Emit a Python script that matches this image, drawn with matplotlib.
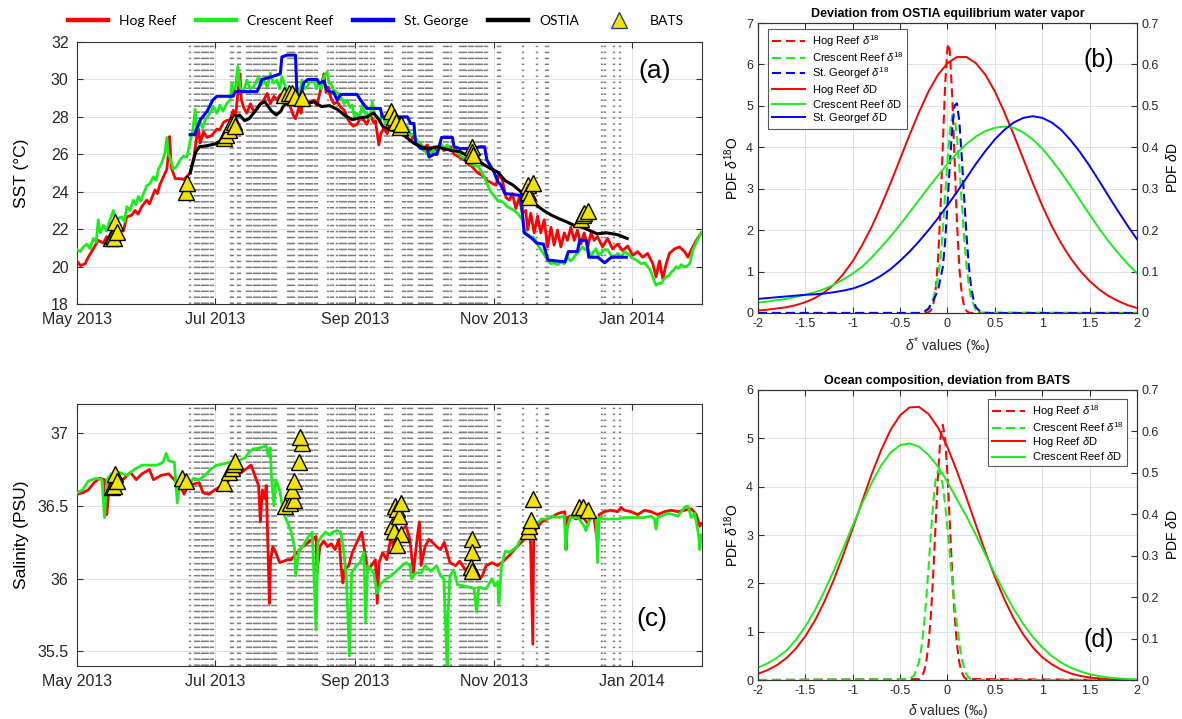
import matplotlib
matplotlib.use("Agg")
import matplotlib.pyplot as plt
import matplotlib.dates as mdates
from matplotlib.lines import Line2D
from matplotlib.ticker import FuncFormatter
import numpy as np
import pandas as pd

plt.rcParams["font.family"] = ["Liberation Sans", "DejaVu Sans"]
plt.rcParams["axes.unicode_minus"] = False
plt.rcParams["lines.scale_dashes"] = False
plt.rcParams["mathtext.fontset"] = "custom"
plt.rcParams["mathtext.rm"] = "Liberation Sans"
plt.rcParams["mathtext.it"] = "Liberation Sans:italic"
plt.rcParams["mathtext.bf"] = "Liberation Sans:bold"

RED = "#ff0000"
GREEN = "#1aee1a"
BLUE = "#0000ff"
YELLOW = "#f2e400"

# ---- time series: (days since 2013-05-01, value) ----
HOG_SST = np.array([
    [0, 20.3], [1.5, 20.05], [3.6, 20.15], [5, 20.5], [7, 20.9], [9.4, 21.4], [11.7, 21.25],
    [13.1, 21.6], [14.5, 21.3], [16.1, 21.95], [17.5, 21.7], [19, 22.1], [20.5, 21.9],
    [22, 22.65], [24.2, 22.75], [25.7, 23.0], [27, 22.8], [28.6, 23.2], [30.8, 23.55],
    [32, 23.35], [33, 23.65], [34.5, 24.1], [35.5, 23.9], [36.7, 24.4], [38.2, 24.8],
    [39.7, 25.2], [40.3, 25.9], [40.9, 26.95], [41.5, 25.6], [41.9, 25.2], [43.4, 24.7],
    [45.6, 24.7], [47, 24.65], [48.5, 24.8], [50, 25.0], [51.5, 25.7], [52.7, 26.8],
    [53.7, 27.35], [54.4, 26.6], [55.9, 27.2], [57.4, 26.9], [59.5, 27.0], [61.8, 27.35],
    [63, 27.3], [64.7, 27.7], [66, 27.8], [67.7, 27.85], [69, 28.35], [70, 28.0],
    [71, 29.2], [72, 30.3], [72.6, 28.9], [73.6, 28.5], [75, 28.2], [76.6, 28.7],
    [78, 28.3], [79.5, 28.4], [81, 28.7], [82.5, 28.9], [84, 29.25], [85.4, 28.7],
    [87, 29.1], [88.3, 28.9], [89.8, 29.2], [91.3, 28.8], [92.8, 29.05], [94.3, 28.5],
    [95.5, 28.1], [96.5, 27.9], [98, 28.5], [99, 28.2], [100, 29.05], [102, 28.7],
    [104.6, 28.9], [106, 28.6], [107.5, 29.4], [109, 30.3], [110, 29.3], [111, 29.6],
    [112, 29.05], [113.5, 28.7], [115, 28.8], [116.5, 28.5], [118, 28.36], [119.5, 27.9],
    [120.8, 27.65], [122, 27.5], [123.7, 27.6], [125, 27.9], [126.7, 27.83], [128, 27.6],
    [129.6, 28.1], [131, 27.7], [131.8, 27.8], [133.3, 26.5], [134.2, 27.1], [135.5, 27.4],
    [137, 27.1], [138.5, 27.7], [140, 27.3], [141.4, 27.45], [143, 27.1], [144.4, 27.3],
    [146, 26.9], [147.3, 26.7], [148.8, 27.0], [150, 26.5], [151.8, 26.55], [153, 26.3],
    [154.7, 26.5], [156, 26.2], [157.6, 26.4], [159, 26.1], [160.6, 26.5], [162, 26.2],
    [163.5, 26.3], [165, 26.4], [166.5, 26.0], [168, 25.9], [169.5, 25.8], [171, 25.7],
    [172.5, 25.5], [174, 25.4], [175.5, 25.2], [177, 25.0], [178.5, 24.9], [179.8, 24.8],
    [181, 24.6], [182.7, 24.5], [184, 24.4], [185, 24.35], [186.4, 25.0], [187.9, 24.6],
    [189.4, 23.7], [190.9, 23.55], [192.3, 23.9], [193.8, 23.1], [195.3, 23.7],
    [196.7, 22.85], [198.2, 23.0], [199, 21.95], [200.4, 22.85], [201.9, 21.8],
    [203.4, 22.7], [204.8, 21.8], [206.3, 22.5], [207.8, 21.05], [209.3, 22.1],
    [210.7, 21.15], [212.2, 21.95], [213.7, 21.05], [215.2, 21.8], [216.6, 21.4],
    [218.1, 22.1], [219.6, 21.4], [221, 21.95], [222.5, 21.2], [224, 21.8], [225.5, 21.05],
    [227, 21.8], [228.4, 21.4], [229.9, 21.6], [232.1, 21.05], [234.3, 21.5],
    [236.5, 20.95], [238.8, 21.2], [241, 20.85], [243.2, 21.1], [245.4, 20.6],
    [247.6, 20.8], [249.8, 20.5], [252, 20.7], [254.3, 20.15], [255.7, 19.45],
    [257.2, 20.3], [258.7, 19.35], [260.2, 20.15], [261.6, 20.7], [263.9, 20.95],
    [266.1, 21.05], [268.3, 20.8], [269.8, 20.5], [271.3, 20.9], [273.5, 21.4], [275.7, 21.8],
])

CRESCENT_SST = np.array([
    [0, 20.9], [1.5, 20.8], [2.8, 21.05], [4.3, 21.2], [5.8, 20.95], [7.2, 21.5], [8.5, 21.3],
    [9.4, 22.5], [10.2, 21.8], [11.7, 22.2], [13, 21.9], [14.6, 22.5], [16.1, 23.0],
    [17.5, 22.3], [18.5, 22.6], [19.8, 22.65], [21, 22.4], [22, 23.2], [23.5, 23.0],
    [24.9, 23.55], [26, 23.3], [27.1, 23.75], [28.2, 23.5], [29.4, 23.9], [30.8, 24.3],
    [32.3, 24.45], [33.8, 24.8], [35, 24.6], [36, 25.2], [37.5, 25.55], [38.9, 26.1],
    [39.7, 26.9], [40.3, 26.0], [40.9, 25.9], [42.6, 25.2], [44, 25.35], [45.6, 25.7],
    [47, 25.9], [48.5, 25.85], [50, 26.7], [51.2, 27.3], [52.2, 28.4], [53, 27.3],
    [54.4, 27.7], [55.5, 27.4], [56.6, 27.83], [58.8, 28.2], [60.3, 28.54], [61.8, 28.19],
    [63.2, 28.63], [64.5, 28.3], [66.2, 28.72], [67.7, 28.9], [68.4, 29.8], [69.2, 29.2],
    [69.9, 29.5], [71, 30.7], [72, 29.6], [73.5, 29.3], [75, 29.97], [76.5, 29.5],
    [78, 29.6], [80.3, 30.15], [81.5, 29.7], [82.5, 29.97], [84, 29.6], [85.4, 30.32],
    [86.8, 29.8], [88.3, 29.97], [89.5, 29.5], [90.5, 30.15], [91.8, 29.7], [92.8, 29.25],
    [94, 28.9], [95, 28.72], [96, 29.1], [97.2, 29.43], [98.3, 29.2], [99.4, 29.97],
    [100.5, 29.5], [101.6, 29.6], [103, 29.9], [104.6, 29.97], [105.8, 29.5], [106.8, 29.8],
    [108, 29.5], [109, 30.15], [110.5, 30.4], [111.3, 29.8], [112, 29.8], [113.4, 29.43],
    [115, 29.3], [116.4, 29.08], [118, 28.7], [119.3, 28.9], [120.5, 28.5], [121.5, 28.63],
    [122.5, 28.0], [123.7, 28.19], [124.8, 27.9], [125.9, 28.63], [127, 28.2], [128, 28.2],
    [129.3, 27.9], [130.4, 28.8], [131.5, 28.1], [132.6, 28.0], [133.7, 27.7], [134.8, 28.19],
    [136, 27.7], [137, 27.83], [138.5, 27.5], [140, 27.74], [141.5, 27.4], [143, 27.65],
    [144.5, 27.2], [145.9, 27.47], [147.5, 27.0], [148.8, 27.12], [150.3, 26.7],
    [151.8, 26.58], [153, 26.2], [154, 26.14], [155.5, 25.9], [156.5, 26.1], [157.6, 26.2],
    [159, 26.0], [160.6, 26.58], [162, 26.3], [163.5, 26.5], [165, 26.2], [166.5, 26.3],
    [168, 26.1], [169.5, 25.9], [171, 25.8], [172.5, 25.6], [174, 25.5], [175.5, 25.4],
    [177, 25.35], [178, 25.2], [179, 25.0], [180.5, 24.6], [181.5, 24.3], [182.7, 24.0],
    [184, 23.8], [185.7, 23.55], [187, 23.5], [188.6, 23.4], [190, 23.2], [191.6, 23.1],
    [193, 23.0], [194.5, 22.85], [195.5, 22.7], [196.7, 22.5], [197.5, 22.0], [198.2, 21.8],
    [199.3, 21.7], [200.4, 21.6], [201.5, 21.55], [202.6, 21.4], [203.7, 21.1], [204.8, 20.9],
    [206, 20.7], [207, 20.5], [208, 20.3], [209.3, 20.15], [210.7, 20.2], [212.2, 20.1],
    [213.7, 20.25], [215.2, 20.15], [216.6, 20.5], [217.8, 20.3], [218.9, 20.4], [220, 20.6],
    [221, 20.7], [222.2, 20.9], [223.3, 21.05], [224.4, 20.9], [225.5, 21.0], [227, 20.5],
    [228.1, 20.8], [229.2, 20.95], [230.3, 20.6], [231.4, 20.7], [232.8, 20.9], [234.3, 20.9],
    [235.8, 20.6], [237.3, 20.5], [238.8, 20.7], [240.3, 20.5], [241.7, 20.8], [243.2, 20.7],
    [244.7, 20.5], [246.1, 20.4], [247.6, 20.3], [249.1, 20.15], [250.6, 20.2], [252, 20.0],
    [253.2, 19.8], [254.3, 19.45], [255, 19.2], [255.7, 19.0], [256.8, 19.1], [258, 19.1],
    [259, 19.3], [260.2, 19.45], [261.3, 19.5], [262.4, 19.7], [263.5, 19.8], [264.6, 20.0],
    [265.7, 19.9], [266.8, 20.1], [268, 20.0], [269.1, 20.0], [270.6, 20.15], [272, 20.9],
    [273.2, 21.2], [274.3, 21.5], [275.7, 21.8],
])

GEORGE_SST = np.array([
    [50, 27.05], [52, 27.05], [53, 27.4], [54.5, 27.85], [57.5, 28.3], [60, 28.9], [61.8, 29.1],
    [69, 29.1], [69.9, 29.35], [79.5, 29.35], [80.5, 29.6], [81.7, 30.0], [85, 30.1],
    [89.8, 30.3], [90.5, 31.2], [92.8, 31.3], [96.5, 31.3], [97.2, 29.1], [99, 29.2],
    [100, 29.8], [102, 30.0], [106, 30.0], [107, 29.8], [109, 29.9], [110.5, 29.4],
    [113.4, 29.3], [114.9, 28.9], [116.5, 29.2], [123.7, 29.2], [125.2, 28.9], [128, 28.45],
    [134, 28.45], [134.8, 28.0], [145.9, 28.0], [147.3, 27.65], [148.8, 27.65], [149.5, 26.6],
    [151.8, 26.3], [154.7, 26.3], [155.5, 25.85], [157.6, 26.0], [159, 26.0], [161, 26.9],
    [165.8, 26.9], [166.5, 26.4], [169.5, 26.3], [174, 26.3], [178, 26.4], [180, 26.4],
    [181, 25.7], [184, 25.1], [186, 24.5], [187, 24.4], [189, 23.9], [196, 23.8],
    [197.5, 21.8], [201, 21.5], [203, 21.25], [206, 21.2], [208, 20.35], [215.5, 20.25],
    [217, 20.8], [221, 20.8], [222, 21.4], [225, 21.4], [226, 20.5], [230, 20.5],
    [233, 20.2], [236, 20.5], [242.6, 20.5],
])

OSTIA_SST = np.array([
    [50, 25.0], [51, 25.5], [52.4, 26.1], [54, 26.4], [57, 26.45], [59, 26.5], [61, 26.55],
    [63, 26.7], [64, 26.85], [66, 27.2], [67.5, 27.55], [70, 28.0], [71.8, 28.1], [74, 27.8],
    [76, 27.9], [78, 28.2], [81, 28.7], [83, 28.8], [84.5, 28.55], [86, 28.3], [88, 28.1],
    [90, 28.3], [91, 28.55], [94.6, 28.9], [98, 28.8], [101, 28.7], [104.7, 28.8],
    [108, 28.55], [111.5, 28.6], [115, 28.4], [118, 28.1], [121.6, 27.85], [125, 27.95],
    [128, 28.0], [131, 28.2], [133.4, 27.85], [135, 27.5], [138.5, 27.3], [142, 27.2],
    [145, 26.95], [148.6, 26.6], [152, 26.4], [155, 26.3], [159, 26.4], [162, 26.3],
    [165.5, 26.2], [169, 26.15], [172, 25.95], [175.7, 25.8], [179, 25.5], [182.4, 25.25],
    [185.8, 25.05], [189, 24.6], [192.6, 24.35], [196, 24.0], [199, 23.65], [202.7, 23.3],
    [206, 23.0], [209.5, 22.75], [213, 22.55], [216, 22.4], [219.6, 22.2], [223, 22.1],
    [226, 21.95], [229.7, 21.75], [234, 21.8], [238.8, 21.7], [243, 21.5],
])

HOG_SAL = np.array([
    [0, 36.58], [2.5, 36.59], [5, 36.61], [7.6, 36.66], [10, 36.69], [12.2, 36.68],
    [13.2, 36.44], [14.4, 36.68], [16.9, 36.71], [20.3, 36.68], [23.6, 36.73], [26.2, 36.68],
    [28.7, 36.72], [32, 36.75], [33.8, 36.68], [37.2, 36.71], [40.5, 36.72], [43, 36.68],
    [45.6, 36.64], [47.3, 36.58], [49, 36.64], [51.5, 36.65], [54, 36.66], [55.7, 36.59],
    [58.3, 36.58], [60.8, 36.61], [64.2, 36.64], [67.6, 36.68], [71, 36.71], [72.6, 36.73],
    [75.2, 36.76], [76.9, 36.78], [78.5, 36.71], [80.2, 36.64], [81, 36.39], [81.9, 36.61],
    [82.8, 36.55], [83.6, 36.64], [84.5, 36.13], [85, 35.83], [85.5, 36.13], [86.5, 36.22],
    [87.8, 36.18], [89.5, 36.11], [91.2, 36.12], [92.9, 36.13], [94.6, 36.13], [97.1, 36.18],
    [99.7, 36.22], [101.4, 36.24], [103.9, 36.27], [105.6, 36.29], [106, 36.04],
    [107.3, 36.22], [109, 36.26], [110.6, 36.22], [112.3, 36.24], [114, 36.2], [115.7, 36.27],
    [116.6, 36.09], [117.4, 35.97], [118.2, 36.06], [120, 36.09], [121.6, 36.18],
    [124.2, 36.27], [125.8, 36.32], [126.7, 36.22], [128.4, 36.06], [130, 36.09],
    [131.8, 36.13], [132.6, 35.83], [133.4, 36.11], [135, 36.18], [136.8, 36.13],
    [138.5, 36.27], [140.2, 36.22], [141.9, 36.27], [143.6, 36.34], [145.3, 36.36],
    [147, 36.27], [148.6, 36.04], [150.3, 36.29], [151.2, 36.39], [152, 36.09],
    [153.7, 36.22], [155.4, 36.27], [157, 36.25], [158.8, 36.22], [160.5, 36.2],
    [162.2, 36.25], [164.7, 36.11], [167.2, 36.09], [169, 36.12], [171.5, 36.06],
    [174, 36.09], [176.5, 36.05], [178, 36.0], [179, 36.02], [180.7, 36.09], [183.3, 36.11],
    [185.8, 36.09], [188.3, 36.12], [190.9, 36.16], [194.3, 36.22], [197.6, 36.27],
    [200.2, 36.32], [201.3, 35.55], [201.7, 36.32], [202.7, 36.34], [205.2, 36.39],
    [207.8, 36.41], [210.3, 36.43], [212.8, 36.45], [215.4, 36.46], [216, 36.2],
    [216.6, 36.42], [217.9, 36.43], [220.4, 36.41], [223, 36.43], [225.5, 36.38],
    [228, 36.45], [229.9, 36.25], [230.6, 36.44], [232.8, 36.46], [235.8, 36.47],
    [238.8, 36.46], [240.3, 36.49], [241.7, 36.47], [244.7, 36.46], [247.6, 36.44],
    [250.6, 36.47], [253.5, 36.46], [256.4, 36.44], [259.4, 36.46], [262.4, 36.47],
    [265.4, 36.46], [268.3, 36.47], [271.3, 36.48], [273.5, 36.44], [275, 36.36], [275.7, 36.38],
])

CRESCENT_SAL = np.array([
    [0, 36.59], [2.5, 36.61], [5, 36.67], [8.4, 36.69], [11, 36.68], [12.2, 36.42],
    [13.2, 36.68], [15.2, 36.72], [18.6, 36.73], [22, 36.71], [25.3, 36.75], [28.7, 36.78],
    [32, 36.78], [35.5, 36.78], [38, 36.8], [39.4, 36.86], [40.5, 36.81], [43, 36.8],
    [44.3, 36.52], [45.6, 36.68], [47.3, 36.66], [49.8, 36.65], [51.5, 36.69], [54, 36.68],
    [56.6, 36.71], [59, 36.75], [61.7, 36.78], [65, 36.79], [67.6, 36.8], [71, 36.81],
    [74.3, 36.83], [76, 36.87], [77.7, 36.89], [81, 36.9], [83.6, 36.91], [84.5, 36.84],
    [85.3, 36.9], [86, 36.68], [87, 36.5], [87.8, 36.68], [89.5, 36.61], [91.2, 36.45],
    [92.9, 36.39], [94.6, 36.32], [96, 36.22], [96.6, 36.02], [98, 36.2], [99.7, 36.22],
    [101.4, 36.27], [103.9, 36.32], [105.6, 35.65], [106.4, 36.25], [108, 36.29],
    [109.8, 36.32], [111.5, 36.3], [113, 36.32], [115, 36.33], [116.5, 36.32], [118, 36.16],
    [119, 36.0], [120.3, 35.47], [121.3, 36.04], [123.3, 36.09], [125, 36.11], [126.7, 36.18],
    [127.5, 35.7], [128.4, 36.09], [131, 36.04], [132.6, 35.9], [134.3, 35.97], [136.8, 36.0],
    [140.2, 36.04], [143.6, 36.09], [145.3, 36.11], [147, 36.09], [147.8, 36.0],
    [149.5, 36.04], [152, 36.04], [153.7, 36.09], [156.3, 36.05], [158.8, 36.09],
    [160.5, 36.02], [162, 36.0], [163, 35.6], [163.5, 35.35], [164, 35.8], [164.7, 36.02],
    [166.4, 36.06], [168, 35.96], [170.6, 35.95], [174, 35.94], [175.4, 35.93],
    [176.5, 35.77], [177.4, 35.94], [180.7, 35.93], [183.3, 36.0], [184.5, 35.95],
    [185.8, 35.98], [186.3, 35.83], [187.5, 36.09], [189.2, 36.19], [190.9, 36.18],
    [192.6, 36.2], [194.5, 36.22], [195.1, 36.25], [197.6, 36.3], [200.2, 36.34],
    [202.7, 36.37], [205.2, 36.41], [207.8, 36.41], [209.5, 36.43], [212.8, 36.42],
    [215.2, 36.43], [215.9, 36.2], [216.5, 36.35], [217.9, 36.42], [221.3, 36.42],
    [224, 36.36], [224.7, 36.33], [227, 36.43], [229.2, 36.42], [229.9, 36.11],
    [230.6, 36.42], [232.8, 36.41], [235.8, 36.41], [238.8, 36.41], [241.7, 36.42],
    [244.7, 36.42], [247.6, 36.42], [250.6, 36.42], [253.5, 36.43], [255, 36.41],
    [255.7, 36.34], [256.5, 36.42], [258, 36.43], [260.9, 36.45], [265.4, 36.43],
    [268.3, 36.49], [269.8, 36.5], [271.3, 36.42], [272.8, 36.45], [274.5, 36.3],
    [275, 36.2], [275.7, 36.3],
])

BATS_SST = np.array([
    [15, 21.55], [16, 21.65], [16.5, 21.5], [17, 22.4], [17.6, 21.85], [48.3, 24.0],
    [48.5, 24.45], [65, 26.85], [66, 27.05], [67, 27.3], [68, 27.6], [69.5, 27.75],
    [70, 27.5], [91.3, 29.15], [93.5, 29.25], [95, 29.3], [96.5, 29.05], [99.4, 29.0],
    [138.5, 28.3], [140, 28.0], [141, 27.7], [142.5, 27.45], [143, 27.6], [174.5, 26.4],
    [174.6, 26.1], [174.7, 25.95], [199, 24.35], [199.2, 24.0], [199.7, 23.7],
    [201.2, 24.45], [222.5, 22.55], [223.3, 22.75], [224, 22.85], [225.5, 22.95],
])

BATS_SAL = np.array([
    [15.5, 36.63], [16.5, 36.64], [17, 36.72], [17.7, 36.67], [46.5, 36.69], [48, 36.67],
    [65, 36.66], [67, 36.73], [68.5, 36.76], [69.5, 36.79], [70, 36.81], [92, 36.5],
    [94.2, 36.52], [95.7, 36.54], [95, 36.61], [95.7, 36.67], [97.9, 36.8], [99.4, 36.93],
    [98.7, 36.97], [139.2, 36.36], [139.9, 36.33], [140.5, 36.5], [141.4, 36.48],
    [142.2, 36.43], [142.9, 36.52], [142.9, 36.31], [141.4, 36.23], [174.6, 36.27],
    [174.6, 36.18], [173.9, 36.08], [174.6, 36.05], [199, 36.33], [199.7, 36.36],
    [200.4, 36.4], [201.2, 36.55], [221.8, 36.49], [223.3, 36.49], [225.5, 36.47],
])

# days with vapour sampling (grey dashed markers)
VAPOR_DAYS = [50, 52, 53, 54, 55, 56, 57, 58, 59, 60,
              68, 69, 71, 72,
              75, 76, 77, 78, 79, 80, 81, 82, 83, 84, 85, 86, 87, 88,
              93, 94, 95, 96, 98, 99, 100, 101, 102, 103, 104, 105, 106,
              111, 112, 113,
              115, 116, 117, 118, 119, 120, 121, 122, 123,
              125, 126, 127, 128, 130, 131,
              136, 137, 138, 139,
              144, 145, 146, 147, 148,
              151, 152, 153, 154, 155, 156, 157,
              162, 163, 164, 165,
              169, 170, 171, 172, 173, 174, 175, 176, 177, 178, 179, 180, 181,
              186, 187, 197, 203, 207, 208, 232, 233, 237, 240]

# ---- PDFs ----
PDF_X = [-2.0, -1.9, -1.8, -1.7, -1.6, -1.5, -1.4, -1.3, -1.2, -1.1,
         -1.0, -0.9, -0.8, -0.7, -0.6, -0.5, -0.4, -0.3, -0.2, -0.1,
         0.0, 0.1, 0.2, 0.3, 0.4, 0.5, 0.6, 0.7, 0.8, 0.9,
         1.0, 1.1, 1.2, 1.3, 1.4, 1.5, 1.6, 1.7, 1.8, 1.9,
         2.0]

B_HOG_DD = [0.006, 0.008, 0.011, 0.014, 0.019, 0.026, 0.036, 0.050, 0.068, 0.094,
            0.125, 0.164, 0.208, 0.259, 0.314, 0.372, 0.430, 0.485, 0.535, 0.575,
            0.603, 0.618, 0.618, 0.603, 0.575, 0.535, 0.485, 0.430, 0.372, 0.314,
            0.259, 0.210, 0.168, 0.132, 0.102, 0.077, 0.057, 0.041, 0.029, 0.019,
            0.012]
B_CRE_DD = [0.025, 0.0275, 0.031, 0.034, 0.039, 0.044, 0.050, 0.058, 0.068, 0.081,
            0.095, 0.112, 0.134, 0.159, 0.185, 0.213, 0.243, 0.273, 0.303, 0.332,
            0.360, 0.386, 0.408, 0.426, 0.439, 0.447, 0.450, 0.447, 0.436, 0.419,
            0.397, 0.369, 0.339, 0.306, 0.272, 0.238, 0.204, 0.173, 0.145, 0.119,
            0.096]
B_STG_DD = [0.034, 0.036, 0.038, 0.040, 0.042, 0.044, 0.045, 0.047, 0.050, 0.054,
            0.059, 0.067, 0.077, 0.090, 0.106, 0.126, 0.148, 0.173, 0.200, 0.229,
            0.260, 0.292, 0.326, 0.360, 0.391, 0.419, 0.442, 0.460, 0.471, 0.475,
            0.471, 0.460, 0.442, 0.417, 0.388, 0.355, 0.319, 0.282, 0.246, 0.211,
            0.178]
D_HOG_DD = [0.015, 0.024, 0.036, 0.053, 0.076, 0.106, 0.143, 0.189, 0.242, 0.302,
            0.366, 0.432, 0.497, 0.555, 0.604, 0.639, 0.658, 0.659, 0.642, 0.609,
            0.562, 0.504, 0.440, 0.374, 0.309, 0.249, 0.195, 0.148, 0.110, 0.079,
            0.055, 0.038, 0.025, 0.016, 0.010, 0.006, 0.004, 0.002, 0.001, 0.0007,
            0.0004]
D_CRE_DD = [0.030, 0.040, 0.054, 0.071, 0.097, 0.129, 0.168, 0.214, 0.264, 0.318,
            0.373, 0.427, 0.476, 0.518, 0.549, 0.567, 0.571, 0.563, 0.543, 0.515,
            0.478, 0.436, 0.395, 0.350, 0.303, 0.256, 0.212, 0.171, 0.135, 0.104,
            0.079, 0.058, 0.042, 0.030, 0.021, 0.014, 0.0095, 0.0062, 0.004, 0.0025,
            0.0015]

B_HOG_18 = np.array([
    [-2.0, 0], [-0.225, 0], [-0.2, 0.02], [-0.175, 0.065], [-0.15, 0.21], [-0.125, 0.56],
    [-0.1, 1.28], [-0.075, 2.46], [-0.05, 4.01], [-0.025, 5.51], [0.0, 6.41], [0.01, 6.5],
    [0.025, 6.31], [0.05, 5.24], [0.075, 3.68], [0.1, 2.19], [0.125, 1.10], [0.15, 0.47],
    [0.175, 0.17], [0.2, 0.05], [0.225, 0.01], [0.25, 0], [2.0, 0],
])
B_CRE_18 = np.array([
    [-2.0, 0], [-0.3, 0], [-0.25, 0.03], [-0.2, 0.12], [-0.15, 0.35], [-0.1, 0.85],
    [-0.075, 1.28], [-0.05, 1.99], [-0.025, 2.84], [0.0, 3.70], [0.025, 4.39], [0.05, 4.77],
    [0.075, 4.72], [0.1, 4.27], [0.125, 3.53], [0.15, 2.67], [0.175, 1.84], [0.2, 1.16],
    [0.225, 0.67], [0.25, 0.35], [0.3, 0.07], [0.35, 0.01], [2.0, 0],
])
B_STG_18 = np.array([
    [-2.0, 0], [-0.3, 0], [-0.25, 0.02], [-0.2, 0.1], [-0.15, 0.3], [-0.1, 0.55],
    [-0.05, 1.1], [-0.025, 1.72], [0.0, 2.62], [0.025, 3.6], [0.05, 4.47], [0.075, 5.01],
    [0.1, 5.06], [0.125, 4.62], [0.15, 3.79], [0.175, 2.82], [0.2, 1.89], [0.225, 1.14],
    [0.25, 0.62], [0.275, 0.31], [0.3, 0.14], [0.35, 0.02], [0.4, 0], [2.0, 0],
])
D_HOG_18 = np.array([
    [-2.0, 0], [-0.3, 0.02], [-0.275, 0.06], [-0.25, 0.16], [-0.225, 0.36], [-0.2, 0.74],
    [-0.175, 1.35], [-0.15, 2.2], [-0.125, 3.23], [-0.1, 4.24], [-0.075, 5.0], [-0.05, 5.28],
    [-0.025, 5.0], [0.0, 4.24], [0.025, 3.23], [0.05, 2.2], [0.075, 1.35], [0.1, 0.74],
    [0.125, 0.36], [0.15, 0.16], [0.175, 0.06], [0.2, 0.02], [2.0, 0],
])
D_CRE_18 = np.array([
    [-2.0, 0], [-0.4, 0.02], [-0.35, 0.1], [-0.3, 0.38], [-0.275, 0.67], [-0.25, 1.09],
    [-0.225, 1.65], [-0.2, 2.32], [-0.175, 3.03], [-0.15, 3.68], [-0.125, 4.14],
    [-0.1, 4.34], [-0.075, 4.27], [-0.05, 4.02], [-0.025, 3.63], [0.0, 3.13], [0.025, 2.59],
    [0.05, 2.05], [0.075, 1.55], [0.1, 1.13], [0.125, 0.78], [0.15, 0.45], [0.175, 0.25],
    [0.2, 0.12], [0.225, 0.05], [0.25, 0.02], [0.3, 0], [2.0, 0],
])

START = mdates.date2num(pd.Timestamp("2013-05-01"))
DASH = (0, (6.5, 3.5))


def style_time_axis(ax, ylim, yticks):
    ax.set_xlim(START, START + 276)
    ax.set_ylim(*ylim)
    ax.set_yticks(yticks)
    ax.yaxis.set_major_formatter(FuncFormatter(lambda v, p: f"{v:g}"))
    ax.xaxis.set_major_locator(mdates.MonthLocator(bymonth=[1, 5, 7, 9, 11]))
    ax.xaxis.set_major_formatter(mdates.DateFormatter("%b %Y"))
    ax.grid(True, color="0.88", lw=0.7)
    ax.set_axisbelow(True)
    ax.tick_params(direction="in", top=True, right=True, length=4, labelsize=11.5,
                   labelcolor="0.15", color="0.2", pad=6)
    for s in ax.spines.values():
        s.set_color("0.2")
        s.set_linewidth(0.8)
    for d in VAPOR_DAYS:
        ax.axvline(START + d, color="0.5", lw=1.7, ls=(0, (1.1, 3.2)), zorder=1)


def style_pdf_axes(ax, ax2, ymax):
    ax.set_xlim(-2, 2)
    ax.set_ylim(0, ymax)
    ax2.set_ylim(0, 0.7)
    ax.set_xticks([-2, -1.5, -1, -0.5, 0, 0.5, 1, 1.5, 2])
    ax.set_yticks(range(0, ymax + 1))
    ax2.set_yticks([0, 0.1, 0.2, 0.3, 0.4, 0.5, 0.6, 0.7])
    fmt = FuncFormatter(lambda v, p: f"{v:g}")
    ax.xaxis.set_major_formatter(fmt)
    ax2.yaxis.set_major_formatter(fmt)
    ax.grid(True, color="0.88", lw=0.7)
    ax.set_axisbelow(True)
    ax.tick_params(direction="in", top=True, length=4, labelsize=9, labelcolor="0.15",
                   color="0.2")
    ax2.tick_params(direction="in", length=4, labelsize=9, labelcolor="0.15", color="0.2")
    for a in (ax, ax2):
        for s in a.spines.values():
            s.set_color("0.2")
            s.set_linewidth(0.8)
    ax.set_ylabel(r"PDF $\delta^{18}$O", fontsize=10)
    ax2.set_ylabel(r"PDF $\delta$D", fontsize=10)


fig = plt.figure(figsize=(11.82, 7.19), dpi=100)
ax_a = fig.add_axes([0.0651, 0.5772, 0.5288, 0.3644])
ax_c = fig.add_axes([0.0651, 0.0737, 0.5288, 0.3644])
ax_b = fig.add_axes([0.6413, 0.5647, 0.3206, 0.4033])
ax_d = fig.add_axes([0.6413, 0.0542, 0.3206, 0.4034])

# (a) SST
style_time_axis(ax_a, (18, 32), [18, 20, 22, 24, 26, 28, 30, 32])
ax_a.plot(START + HOG_SST[:, 0], HOG_SST[:, 1], color=RED, lw=2.0, zorder=3)
ax_a.plot(START + CRESCENT_SST[:, 0], CRESCENT_SST[:, 1], color=GREEN, lw=2.0, zorder=3)
ax_a.plot(START + GEORGE_SST[:, 0], GEORGE_SST[:, 1], color=BLUE, lw=2.2, zorder=3)
ax_a.plot(START + OSTIA_SST[:, 0], OSTIA_SST[:, 1], color="black", lw=2.2, zorder=3)
ax_a.plot(START + BATS_SST[:, 0], BATS_SST[:, 1], ls="none", marker="^", ms=11,
          mfc=YELLOW, mec="black", mew=1.0, zorder=5)
ax_a.set_ylabel("SST (°C)", fontsize=12.5)
ax_a.yaxis.set_label_coords(-0.077, 0.5)
ax_a.text(START + 255, 30.45, "(a)", fontsize=19, ha="center", va="center")

# (c) salinity
style_time_axis(ax_c, (35.4, 37.2), [35.5, 36, 36.5, 37])
ax_c.plot(START + HOG_SAL[:, 0], HOG_SAL[:, 1], color=RED, lw=2.0, zorder=3)
ax_c.plot(START + CRESCENT_SAL[:, 0], CRESCENT_SAL[:, 1], color=GREEN, lw=2.0, zorder=3)
ax_c.plot(START + BATS_SAL[:, 0], BATS_SAL[:, 1], ls="none", marker="^", ms=11,
          mfc=YELLOW, mec="black", mew=1.0, zorder=5)
ax_c.set_ylabel("Salinity (PSU)", fontsize=12.5)
ax_c.yaxis.set_label_coords(-0.077, 0.5)
ax_c.text(START + 254, 35.72, "(c)", fontsize=19, ha="center", va="center")

# top legend
top_handles = [
    Line2D([], [], color=RED, lw=3.2),
    Line2D([], [], color=GREEN, lw=3.2),
    Line2D([], [], color=BLUE, lw=3.2),
    Line2D([], [], color="black", lw=3.2),
    Line2D([], [], ls="none", marker="^", ms=11, mfc=YELLOW, mec="#2a3f8f", mew=1.0),
]
fig.legend(top_handles, ["Hog Reef", "Crescent Reef", "St. George", "OSTIA", "BATS"],
           loc="center", bbox_to_anchor=(0.318, 0.971), ncol=5, frameon=False,
           prop={"family": "Lato", "size": 10}, handlelength=2.9, handletextpad=0.8,
           columnspacing=1.4)

# (b) vapour deviation PDFs
ax_b2 = ax_b.twinx()
style_pdf_axes(ax_b, ax_b2, 7)
ax_b.plot(B_HOG_18[:, 0], B_HOG_18[:, 1], color=RED, lw=1.5, ls=DASH)
ax_b.plot(B_CRE_18[:, 0], B_CRE_18[:, 1], color=GREEN, lw=1.5, ls=DASH)
ax_b.plot(B_STG_18[:, 0], B_STG_18[:, 1], color=BLUE, lw=1.5, ls=DASH)
ax_b2.plot(PDF_X, B_HOG_DD, color=RED, lw=1.4)
ax_b2.plot(PDF_X, B_CRE_DD, color=GREEN, lw=1.4)
ax_b2.plot(PDF_X, B_STG_DD, color=BLUE, lw=1.4)
ax_b.set_title("Deviation from OSTIA equilibrium water vapor", fontsize=9, fontweight="bold",
               pad=4)
ax_b.set_xlabel(r"$\delta^{*}$ values (‰)", fontsize=10, color="0.15")
ax_b.text(1.6, 6.1, "(b)", fontsize=18, ha="center", va="center")
b_handles = [
    Line2D([], [], color=RED, lw=1.5, ls=DASH),
    Line2D([], [], color=GREEN, lw=1.5, ls=DASH),
    Line2D([], [], color=BLUE, lw=1.5, ls=DASH),
    Line2D([], [], color=RED, lw=1.4),
    Line2D([], [], color=GREEN, lw=1.4),
    Line2D([], [], color=BLUE, lw=1.4),
]
b_labels = [r"Hog Reef $\delta^{18}$", r"Crescent Reef $\delta^{18}$",
            r"St. Georgef $\delta^{18}$", r"Hog Reef $\delta$D",
            r"Crescent Reef $\delta$D", r"St. Georgef $\delta$D"]
leg_b = ax_b2.legend(b_handles, b_labels, loc="upper left", bbox_to_anchor=(0.026, 0.978),
                     borderaxespad=0, fontsize=8, handlelength=3.0, fancybox=False,
                     framealpha=1, edgecolor="0.35", labelspacing=0.12, borderpad=0.35,
                     handletextpad=0.6)
leg_b.get_frame().set_linewidth(0.8)

# (d) ocean composition PDFs
ax_d2 = ax_d.twinx()
style_pdf_axes(ax_d, ax_d2, 6)
ax_d.plot(D_HOG_18[:, 0], D_HOG_18[:, 1], color=RED, lw=1.5, ls=DASH)
ax_d.plot(D_CRE_18[:, 0], D_CRE_18[:, 1], color=GREEN, lw=1.5, ls=DASH)
ax_d2.plot(PDF_X, D_HOG_DD, color=RED, lw=1.4)
ax_d2.plot(PDF_X, D_CRE_DD, color=GREEN, lw=1.4)
ax_d.set_title("Ocean composition, deviation from BATS", fontsize=9, fontweight="bold", pad=4)
ax_d.set_xlabel(r"$\delta$ values (‰)", fontsize=10, color="0.15")
ax_d.text(1.6, 0.82, "(d)", fontsize=18, ha="center", va="center")
d_handles = b_handles[:2] + b_handles[3:5]
d_labels = [b_labels[0], b_labels[1], b_labels[3], b_labels[4]]
leg_d = ax_d2.legend(d_handles, d_labels, loc="upper right", bbox_to_anchor=(0.974, 0.969),
                     borderaxespad=0, fontsize=8, handlelength=3.0, fancybox=False,
                     framealpha=1, edgecolor="0.35", labelspacing=0.12, borderpad=0.35,
                     handletextpad=0.6)
leg_d.get_frame().set_linewidth(0.8)

fig.savefig("out.png", dpi=100)
